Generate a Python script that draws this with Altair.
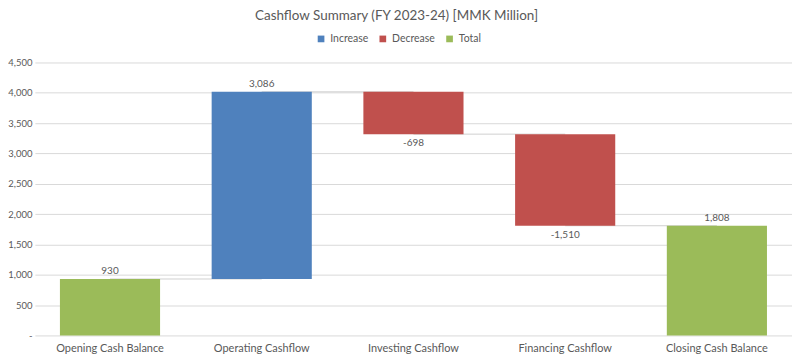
import altair as alt
import pandas as pd

categories = ["Opening Cash Balance", "Operating Cashflow", "Investing Cashflow",
              "Financing Cashflow", "Closing Cash  Balance"]
values = [930, 3086, -698, -1510, 1808]
kinds = ["Total", "Increase", "Decrease", "Decrease", "Total"]

legend_order = ["Increase", "Decrease", "Total"]
legend_colors = ["#4F81BD", "#C0504D", "#9BBB59"]
y_ticks = [0, 500, 1000, 1500, 2000, 2500, 3000, 3500, 4000, 4500]

rows = []
running = 0
for c, v, k in zip(categories, values, kinds):
    if k == "Total":
        start, end = 0, v
        running = v
    else:
        start, end = running, running + v
        running = end
    rows.append(dict(category=c, value=v, kind=k, start=start, end=end,
                     top=max(start, end), bottom=min(start, end),
                     label=f"{v:,}", neg=bool(v < 0)))
df = pd.DataFrame(rows)

conn = pd.DataFrame([
    {"category": categories[i], "next": categories[i + 1], "level": rows[i]["end"]}
    for i in range(len(categories) - 1)
])

FONT = "Lato"
GREY = "#595959"

xscale = alt.Scale(domain=categories, paddingInner=0.34, paddingOuter=0.165)
yscale = alt.Scale(domain=[0, 4500], nice=False)

xaxis = alt.Axis(title=None, labelAngle=0, labelAlign="center", labelBaseline="top",
                 labelFontSize=11, labelColor=GREY, labelFont=FONT, ticks=False,
                 domain=False, labelPadding=7, grid=False)
yaxis = alt.Axis(title=None, values=y_ticks,
                 labelExpr="datum.value == 0 ? '-' : format(datum.value, ',')",
                 labelFontSize=9.5, labelColor=GREY, labelFont=FONT,
                 grid=True, gridColor="#d9d9d9", ticks=False, domain=False,
                 labelPadding=3)


def X(field):
    return alt.X(field, scale=xscale, sort=categories, axis=xaxis)


def Y(field):
    return alt.Y(field, scale=yscale, axis=yaxis)


rules = alt.Chart(conn).mark_rule(color="#d0d0d0", strokeWidth=1).encode(
    x=X("category:N"),
    x2="next:N",
    y=Y("level:Q"),
)

bars = alt.Chart(df).mark_bar().encode(
    x=X("category:N"),
    y=Y("start:Q"),
    y2="end:Q",
    color=alt.Color("kind:N",
                    scale=alt.Scale(domain=legend_order, range=legend_colors),
                    legend=alt.Legend(title=None, orient="none", legendX=282, legendY=-29,
                                      direction="horizontal", symbolType="square",
                                      symbolSize=45, symbolStrokeWidth=0,
                                      labelFontSize=10.5, labelColor=GREY, labelFont=FONT,
                                      columnPadding=9, labelOffset=4)),
)

pos_text = alt.Chart(df).transform_filter("!datum.neg").mark_text(
    baseline="bottom", dy=-3, fontSize=10, color=GREY, font=FONT
).encode(
    x=X("category:N"),
    y=Y("top:Q"),
    text="label:N",
)

neg_text = alt.Chart(df).transform_filter("datum.neg").mark_text(
    baseline="top", dy=4, fontSize=10, color=GREY, font=FONT
).encode(
    x=X("category:N"),
    y=Y("bottom:Q"),
    text="label:N",
)

chart = alt.layer(rules, bars, pos_text, neg_text).properties(
    width=760,
    height=274,
    autosize=alt.AutoSizeParams(type="none"),
    padding={"left": 27, "top": 54, "right": 0, "bottom": 20},
    title=alt.Title("Cashflow Summary (FY 2023-24) [MMK Million]", anchor="middle",
                    fontSize=13.5, fontWeight="normal", color=GREY, font=FONT,
                    dx=-17, offset=11),
).configure_view(stroke=None)

chart.save("out.html", embed_options={"renderer": "svg", "actions": False})
